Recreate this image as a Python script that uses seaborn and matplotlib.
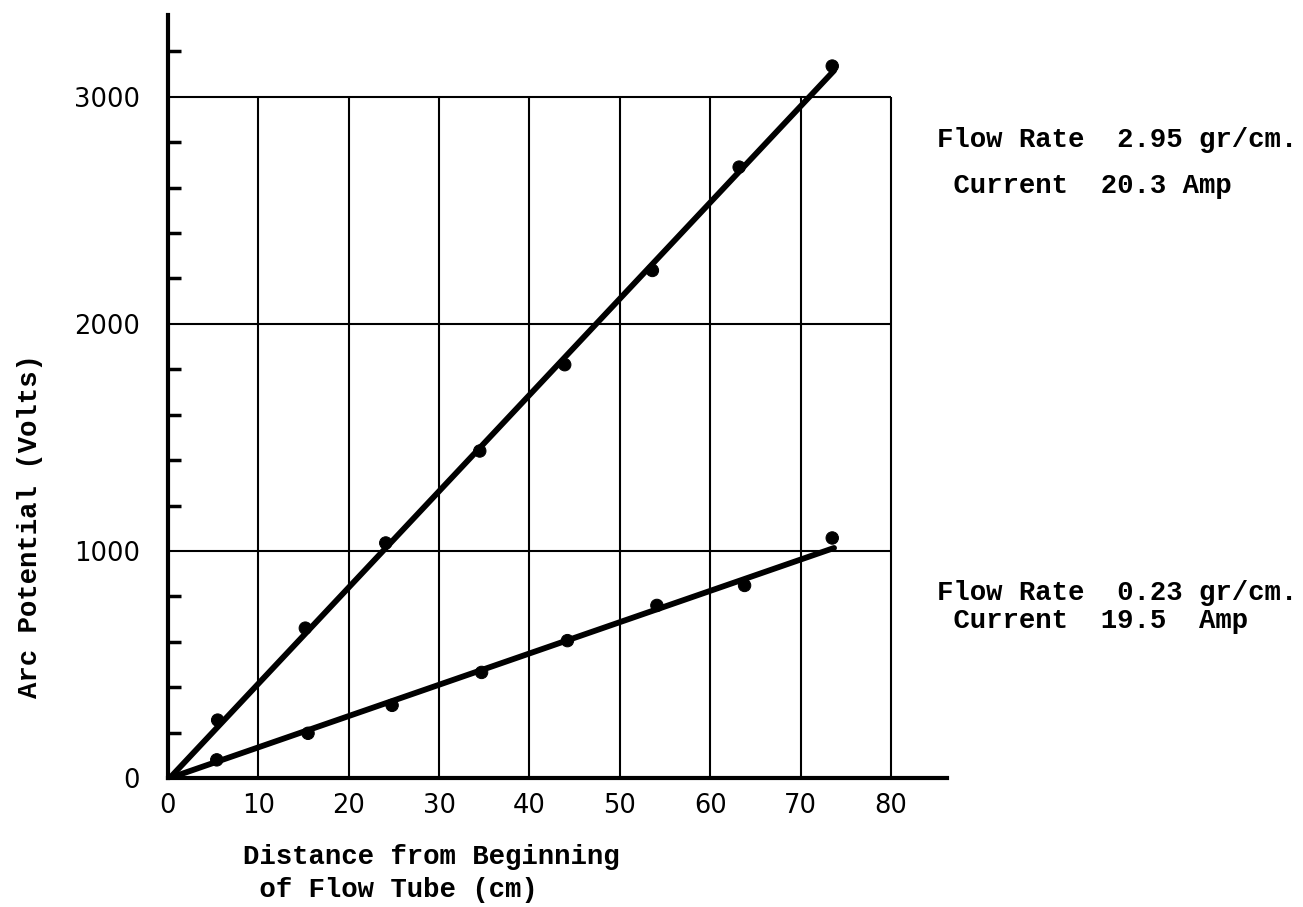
import numpy as np
import pandas as pd
import matplotlib
matplotlib.use("Agg")
import matplotlib.pyplot as plt
from matplotlib.ticker import MultipleLocator
import seaborn as sns

# Measured arc potential along the flow tube, two flow rates
high_x = [5.5, 15.2, 24.1, 34.5, 43.9, 53.6, 63.2, 73.5]
high_v = [255, 660, 1035, 1440, 1820, 2235, 2690, 3135]
low_x = [5.4, 15.5, 24.8, 34.7, 44.2, 54.1, 63.8, 73.5]
low_v = [80, 197, 320, 465, 605, 760, 848, 1057]

# Straight-line fits (drawn by hand through the origin)
fit_x = [0.2, 73.7]
high_fit = [0, 3115]
low_fit = [0, 1013]

# Grid / tick values
x_ticks = [0, 10, 20, 30, 40, 50, 60, 70, 80]
y_ticks = [0, 1000, 2000, 3000]

high_labels = ["Flow Rate  2.95 gr/cm.", " Current  20.3 Amp"]
low_labels = ["Flow Rate  0.23 gr/cm.", " Current  19.5  Amp"]

sns.set_style("white")
plt.rcParams["text.color"] = "black"
mono = ["Liberation Mono", "DejaVu Sans Mono"]
label_size = 19.7

fig = plt.figure(figsize=(13.03, 9.07), dpi=100)
ax = fig.add_axes([0.1289, 0.1422, 0.5979, 0.8413])

# Grid box limited to 0-80 cm and 0-3000 V
ax.vlines(x_ticks[1:], 0, y_ticks[-1], color="black", lw=1.5, zorder=1)
ax.hlines(y_ticks[1:], 0, x_ticks[-1], color="black", lw=1.5, zorder=1)

pts = pd.concat([
    pd.DataFrame({"x": high_x, "v": high_v, "run": "high"}),
    pd.DataFrame({"x": low_x, "v": low_v, "run": "low"}),
])
fits = pd.concat([
    pd.DataFrame({"x": fit_x, "v": high_fit, "run": "high"}),
    pd.DataFrame({"x": fit_x, "v": low_fit, "run": "low"}),
])

sns.lineplot(data=fits, x="x", y="v", hue="run", palette=["black", "black"],
             linewidth=4.2, legend=False, ax=ax, zorder=3)
sns.scatterplot(data=pts, x="x", y="v", hue="run", palette=["black", "black"],
                s=80, edgecolor="black", legend=False, ax=ax, zorder=4)

ax.set_xlim(0, 86.2)
ax.set_ylim(0, 3360)

for side in ["top", "right"]:
    ax.spines[side].set_visible(False)
for side in ["left", "bottom"]:
    ax.spines[side].set_linewidth(3)
    ax.spines[side].set_color("black")

ax.set_xticks(x_ticks)
ax.set_xticklabels([str(v) for v in x_ticks])
ax.set_yticks(y_ticks)
ax.set_yticklabels([str(v) for v in y_ticks])
ax.yaxis.set_minor_locator(MultipleLocator(200))
ax.tick_params(axis="both", which="major", length=0, labelsize=18.5,
               labelcolor="black")
ax.tick_params(axis="x", which="major", pad=11)
ax.tick_params(axis="y", which="major", pad=20)
ax.tick_params(axis="y", which="minor", direction="in", length=9, width=2.5,
               color="black", left=True)

ax.set_xlabel("")
ax.set_ylabel("")

fig.text(243 / 1303, 1 - 857 / 907, "Distance from Beginning",
         family=mono, fontweight="bold", fontsize=label_size, ha="left", va="center")
fig.text(243 / 1303, 1 - 890 / 907, " of Flow Tube (cm)",
         family=mono, fontweight="bold", fontsize=label_size, ha="left", va="center")
fig.text(30 / 1303, 1 - 526 / 907, "Arc Potential (Volts)", rotation=90,
         family=mono, fontweight="bold", fontsize=label_size, ha="center", va="center")

fig.text(937 / 1303, 1 - 140 / 907, high_labels[0], family=mono,
         fontweight="bold", fontsize=label_size, ha="left", va="center")
fig.text(937 / 1303, 1 - 186 / 907, high_labels[1], family=mono,
         fontweight="bold", fontsize=label_size, ha="left", va="center")
fig.text(937 / 1303, 1 - 593 / 907, low_labels[0], family=mono,
         fontweight="bold", fontsize=label_size, ha="left", va="center")
fig.text(937 / 1303, 1 - 621 / 907, low_labels[1], family=mono,
         fontweight="bold", fontsize=label_size, ha="left", va="center")

fig.savefig("out.png", dpi=100, facecolor="white")
